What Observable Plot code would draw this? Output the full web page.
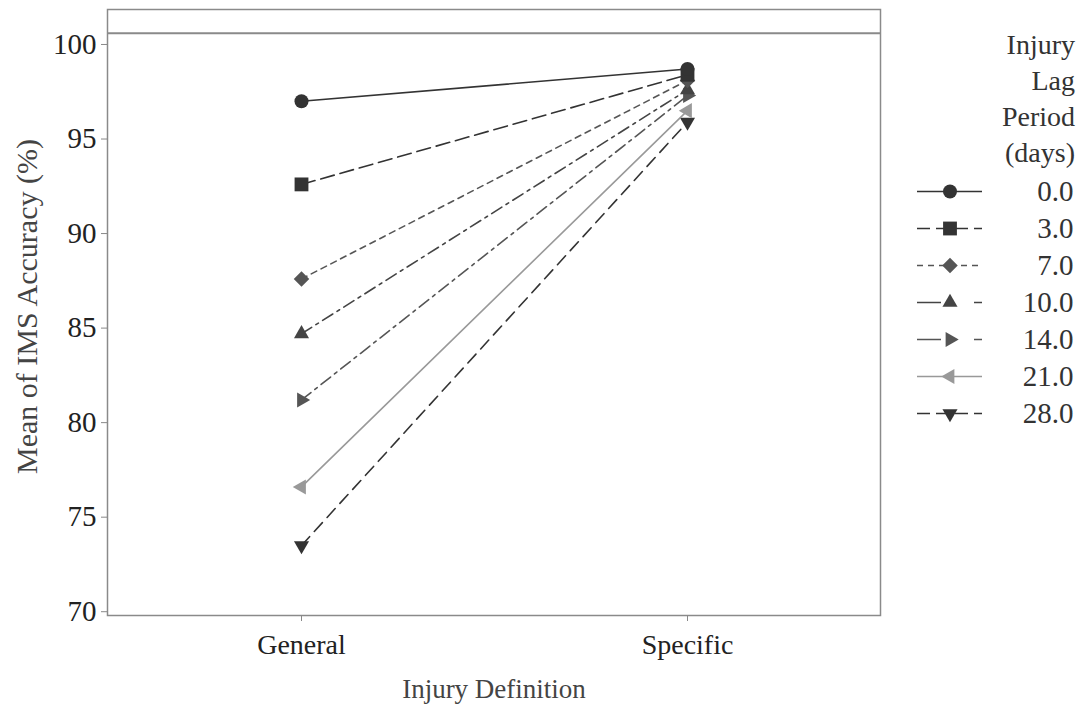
<!DOCTYPE html>
<html>
<head>
<meta charset="utf-8">
<script src="https://cdn.jsdelivr.net/npm/d3@7"></script>
<script src="https://cdn.jsdelivr.net/npm/@observablehq/plot@0.6"></script>
<style>
  html, body { margin: 0; padding: 0; background: #fff; }
  #wrap { position: relative; width: 1084px; height: 712px; font-family: "Liberation Serif", "Times New Roman", serif; }
  #legend-title { position: absolute; right: 9px; top: 27px; text-align: right; font-size: 28px; line-height: 36px; color: #333; }
  #legend { position: absolute; left: 900px; top: 0; }
</style>
</head>
<body>
<div id="wrap">
  <div id="main"></div>
  <div id="legend-title"></div>
  <div id="legend"></div>
</div>
<script>
// Mean IMS accuracy by injury definition, one series per injury lag period
const definitions = ["General", "Specific"];
const lagPeriods = ["0.0", "3.0", "7.0", "10.0", "14.0", "21.0", "28.0"];
const generalAccuracy = [97.0, 92.6, 87.6, 84.7, 81.2, 76.6, 73.5];
const specificAccuracy = [98.7, 98.4, 98.1, 97.6, 97.3, 96.5, 95.9];
const yTicks = [70, 75, 80, 85, 90, 95, 100];
const upperLine = 100.6;
const legendTitle = ["Injury", "Lag", "Period", "(days)"];

// Series appearance: line colour, dash pattern, marker symbol and rotation
const seriesColor = ["#333", "#333", "#555", "#444", "#555", "#999", "#333"];
const seriesDash = [null, "14,6", "6,5", "12,5,3,5", "12,5,3,5", null, "12,7"];
const legendDash = [null, "13,6", "6,5", "24,8,5,20", "24,8,5,20", null, "13,6"];
const seriesSymbol = ["circle", "square", "diamond2", "triangle", "triangle", "triangle", "triangle"];
const seriesRotate = [0, 0, 0, 0, 90, -90, 180];
const seriesRadius = [7, 7.8, 7, 5.6, 5.6, 5.6, 5.6];

const rows = lagPeriods.flatMap((lag, i) => [
  {lag, definition: definitions[0], accuracy: generalAccuracy[i]},
  {lag, definition: definitions[1], accuracy: specificAccuracy[i]}
]);

const order = d3.range(lagPeriods.length).reverse();

const seriesMarks = order.flatMap(i => {
  const data = rows.filter(d => d.lag === lagPeriods[i]);
  return [
    Plot.line(data, {
      x: "definition", y: "accuracy",
      stroke: seriesColor[i], strokeWidth: 1.6,
      strokeDasharray: seriesDash[i] ?? undefined
    }),
    Plot.dot(data, {
      x: "definition", y: "accuracy",
      symbol: seriesSymbol[i], r: seriesRadius[i],
      fill: seriesColor[i], stroke: "none", rotate: seriesRotate[i]
    })
  ];
});

const font = "'Liberation Serif', 'Times New Roman', serif";

const chart = Plot.plot({
  width: 1084,
  height: 712,
  marginLeft: 107,
  marginRight: 204,
  marginTop: 9,
  marginBottom: 97,
  style: {fontFamily: font, fontSize: "28px", color: "#222", background: "white", overflow: "visible"},
  x: {type: "point", domain: definitions, padding: 0.5, label: null},
  y: {domain: [69.8, 101.85], label: null},
  marks: [
    Plot.frame({stroke: "#8a8a8a", strokeWidth: 1.5}),
    Plot.ruleY([upperLine], {stroke: "#8a8a8a", strokeWidth: 2}),
    Plot.axisY(yTicks, {tickSize: 6, tickPadding: 5, stroke: "#888", fill: "#222", fontSize: 29, label: null}),
    Plot.axisX({tickSize: 6, tickPadding: 13, stroke: "#888", fill: "#222", fontSize: 28, label: null}),
    Plot.text(["Injury Definition"], {text: d => d, frameAnchor: "bottom", dy: 82, fontSize: 27, fill: "#444"}),
    Plot.text(["Mean of IMS Accuracy (%)"], {text: d => d, frameAnchor: "left", textAnchor: "middle", rotate: -90, dx: -80, dy: -6, fontSize: 30, fill: "#444"}),
    ...seriesMarks
  ]
});
document.getElementById("main").append(chart);

// Legend title
document.getElementById("legend-title").innerHTML = legendTitle.join("<br>");

// Legend: line sample, marker and label per lag period
const legendMarks = lagPeriods.flatMap((lag, i) => [
  Plot.ruleY([lag], {
    y: d => d, x1: () => 0, x2: () => 1,
    stroke: seriesColor[i], strokeWidth: 1.6,
    strokeDasharray: legendDash[i] ?? undefined
  }),
  Plot.dot([lag], {
    x: () => 0.5, y: d => d,
    symbol: seriesSymbol[i], r: seriesRadius[i],
    fill: seriesColor[i], stroke: "none", rotate: seriesRotate[i]
  })
]);

const legend = Plot.plot({
  width: 184,
  height: 440,
  marginLeft: 0,
  marginRight: 11,
  marginTop: 0,
  marginBottom: 0,
  style: {fontFamily: font, fontSize: "29px", color: "#333", background: "transparent", overflow: "visible"},
  x: {domain: [0, 1], range: [17, 82], axis: null},
  y: {type: "point", domain: lagPeriods, range: [188, 415], padding: 0, axis: null},
  marks: [
    ...legendMarks,
    Plot.text(lagPeriods, {y: d => d, text: d => d, frameAnchor: "right", textAnchor: "end", fontSize: 29, fill: "#333"})
  ]
});
document.getElementById("legend").append(legend);
</script>
</body>
</html>
